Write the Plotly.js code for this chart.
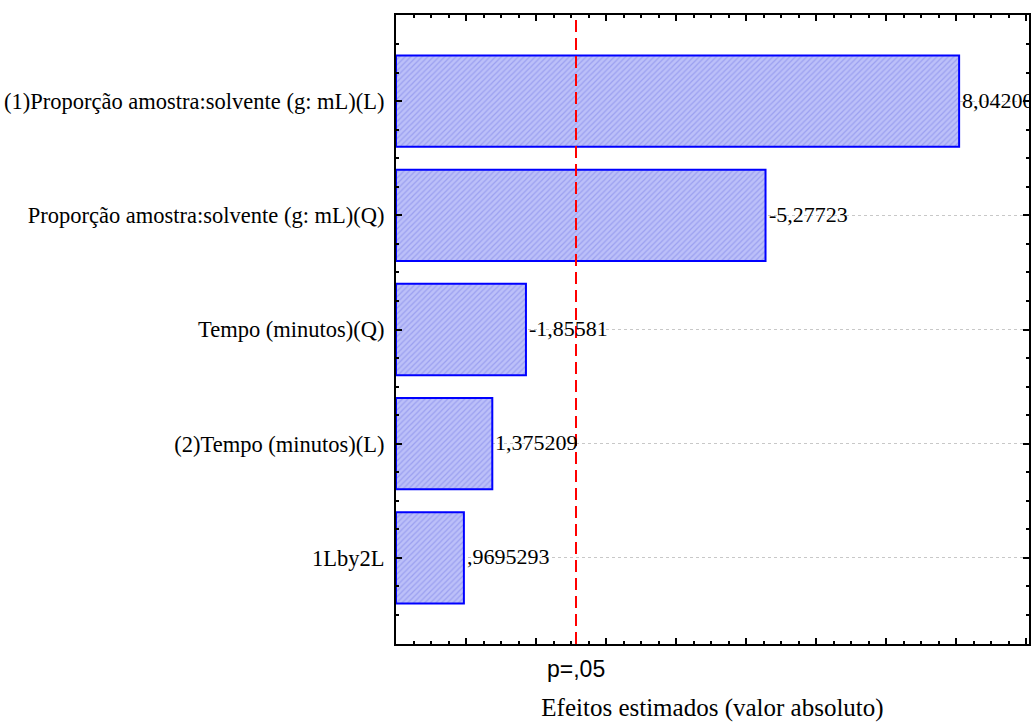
<!DOCTYPE html>
<html>
<head>
<meta charset="utf-8">
<script src="https://cdn.plot.ly/plotly-3.0.1.min.js"></script>
<style>html,body{margin:0;padding:0;background:#fff;}#chart{width:1031px;height:722px;}</style>
</head>
<body>
<div id="chart"></div>
<script>
// Pareto chart of standardized effects
const factors = [
  "(1)Proporção amostra:solvente (g: mL)(L)",
  "Proporção amostra:solvente (g: mL)(Q)",
  "Tempo (minutos)(Q)",
  "(2)Tempo (minutos)(L)",
  "1Lby2L"
];
const effects = [8.042, -5.27723, -1.85581, 1.375209, 0.9695293];
const effectLabels = ["8,04200", "-5,27723", "-1,85581", "1,375209", ",9695293"];
const pCritical = 2.5706;
const pLabel = "p=,05";
const xTitle = "Efeitos estimados (valor absoluto)";

const absEffects = effects.map(v => Math.abs(v));
const yRange = [4.755, -0.755];
const xRange = [0, 9.04];

const serif = "'Liberation Serif', 'Times New Roman', serif";
const sans = "'Liberation Sans', Arial, sans-serif";

const traces = [
  {
    type: "bar",
    orientation: "h",
    x: absEffects,
    y: factors,
    width: 0.8,
    marker: {
      color: "#b8bcf8",
      line: {color: "#0000ff", width: 2},
      pattern: {shape: "/", bgcolor: "#bcc0f9", fgcolor: "#9ba0f0", size: 4, solidity: 0.3}
    },
    hoverinfo: "x+y",
    showlegend: false
  },
  {
    type: "scatter",
    x: [],
    y: [],
    yaxis: "y2",
    showlegend: false
  }
];

const annotations = absEffects.map((v, i) => ({
  x: v, y: factors[i], xref: "x", yref: "y",
  text: effectLabels[i], showarrow: false,
  xanchor: "left", yanchor: "middle", xshift: 1, yshift: 1,
  font: {family: serif, size: 22, color: "#000"}
}));
annotations.push({
  x: pCritical, y: 0, xref: "x", yref: "paper",
  text: pLabel, showarrow: false, xanchor: "center", yanchor: "top", yshift: -10,
  font: {family: sans, size: 23, color: "#000"}
});

const layout = {
  width: 1031, height: 722,
  margin: {l: 396, r: 2, t: 15, b: 78, pad: 0},
  paper_bgcolor: "#fff", plot_bgcolor: "#fff",
  showlegend: false,
  bargap: 0.2,
  xaxis: {
    range: xRange, type: "linear",
    showline: true, linecolor: "#000", linewidth: 2, mirror: "ticks",
    ticks: "inside", dtick: 1, tick0: 0, ticklen: 6, tickwidth: 2, tickcolor: "#000",
    minor: {dtick: 0.25, tick0: 0, ticks: "inside", ticklen: 3, tickwidth: 2, tickcolor: "#000", showgrid: false},
    showgrid: false, zeroline: false, showticklabels: false,
    title: {text: xTitle, font: {family: serif, size: 25, color: "#000"}, standoff: 55},
    automargin: false
  },
  yaxis: {
    type: "category", range: yRange,
    categoryorder: "array", categoryarray: factors,
    showline: true, linecolor: "#000", linewidth: 2, mirror: true,
    ticks: "", ticklabelstandoff: 5,
    tickfont: {family: serif, size: 22.5, color: "#000"},
    showgrid: true, gridcolor: "#c8c8c8", griddash: "dot", gridwidth: 1,
    zeroline: false, automargin: false
  },
  yaxis2: {
    overlaying: "y", type: "linear", range: yRange,
    showline: false, mirror: "ticks",
    ticks: "inside", dtick: 1, tick0: 0, ticklen: 6, tickwidth: 2, tickcolor: "#000",
    minor: {dtick: 0.25, tick0: 0, ticks: "inside", ticklen: 3, tickwidth: 2, tickcolor: "#000", showgrid: false},
    showgrid: false, zeroline: false, showticklabels: false, automargin: false
  },
  shapes: [{
    type: "line", xref: "x", yref: "paper",
    x0: pCritical, x1: pCritical, y0: 0, y1: 1,
    line: {color: "#ff0000", width: 2, dash: "12px,6px"},
    layer: "above"
  }],
  annotations: annotations
};

Plotly.newPlot("chart", traces, layout, {displayModeBar: false, staticPlot: true});
</script>
</body>
</html>
